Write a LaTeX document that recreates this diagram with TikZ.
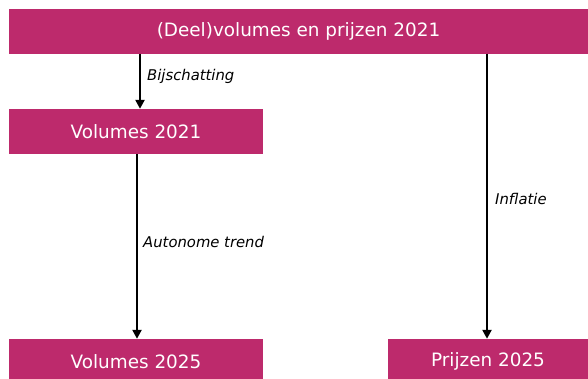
\documentclass[tikz,border=0pt]{standalone}
\usepackage{fontspec}
\setmainfont{DejaVu Sans}
\usetikzlibrary{arrows.meta}
\definecolor{boxpink}{RGB}{189,42,108}

\begin{document}
\begin{tikzpicture}[x=1pt, y=-1pt,
  blok/.style={fill=boxpink, text=white, font=\fontsize{18.4}{22}\selectfont, inner sep=0pt, minimum height=45pt},
  pijl/.style={-{Triangle[width=9pt,length=9pt]}, line width=2.5pt},
  lbl/.style={font=\itshape\fontsize{14.8}{17}\selectfont, anchor=west, inner sep=0pt}]
\clip (0,0) rectangle (588,378);

% Boxes
\node[blok, minimum width=579pt] (deel) at (298.5,31) {(Deel)volumes en prijzen 2021};
\node[blok, minimum width=254pt] (vol21) at (136,131.5) {Volumes 2021};
\node[blok, minimum width=254pt] (vol25) at (136,361.5) {Volumes 2025};
\node[blok, minimum width=200pt] (prijs25) at (488,361.5) {Prijzen 2025};

% Arrow columns
\coordinate (k1) at (140,0);
\coordinate (k2) at (137,0);
\coordinate (k3) at (487,0);

% Bijschatting
\draw[pijl] (deel.south -| k1) -- (vol21.north -| k1);
\node[lbl] (bij) at (147,76) {Bijschatting};

% Autonome trend
\draw[pijl] (vol21.south -| k2) -- (vol25.north -| k2);
\node[lbl] (trend) at (143,242) {Autonome trend};

% Inflatie
\draw[pijl] (deel.south -| k3) -- (prijs25.north -| k3);
\node[lbl] (infl) at (495,199) {Inflatie};
\end{tikzpicture}
\end{document}
